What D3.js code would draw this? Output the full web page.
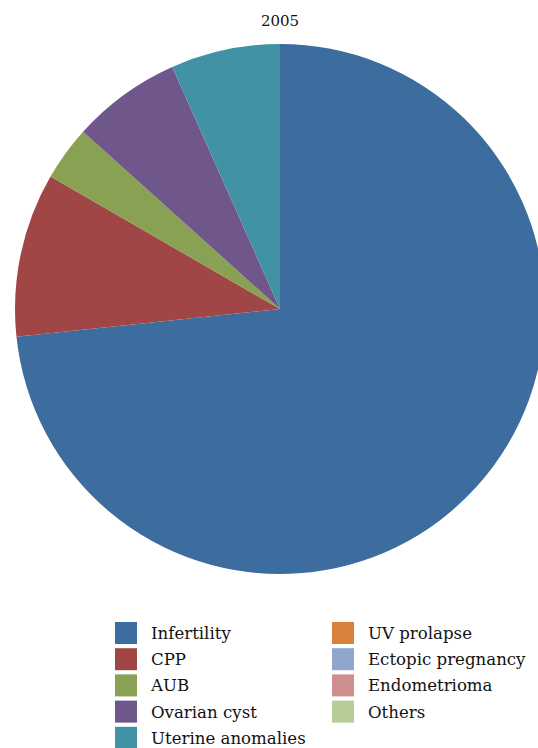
<!DOCTYPE html>
<html>
<head>
<meta charset="utf-8">
<script src="https://cdn.jsdelivr.net/npm/d3@7"></script>
<style>
  body { margin: 0; background: #fff; }
  svg { display: block; }
  text { font-family: "DejaVu Serif", serif; }
</style>
</head>
<body>
<div id="chart"></div>
<script>
// Pie chart of indications, 2005

const width = 538;
const height = 748;

const categories = ["Infertility", "CPP", "AUB", "Ovarian cyst", "Uterine anomalies",
  "UV prolapse", "Ectopic pregnancy", "Endometrioma", "Others"];
const counts = [22, 3, 1, 2, 2, 0, 0, 0, 0];
const colors = ["#3d6d9e", "#a14647", "#88a152", "#6f578c", "#4292a6",
  "#d6823d", "#90a6cc", "#cf8e8e", "#b6cd97"];

const data = categories.map((c, i) => ({ name: c, value: counts[i] }));

const cx = 280, cy = 309, radius = 265;

const svg = d3.select("#chart")
  .append("svg")
  .attr("width", width)
  .attr("height", height);

// title
svg.append("text")
  .attr("x", cx)
  .attr("y", 26)
  .attr("text-anchor", "middle")
  .style("font-size", "15px")
  .style("fill", "#111")
  .text("2005");

const color = d3.scaleOrdinal().domain(categories).range(colors);

const pie = d3.pie()
  .value(d => d.value)
  .sort(null);

const arc = d3.arc()
  .innerRadius(0)
  .outerRadius(radius);

svg.append("g")
  .attr("transform", `translate(${cx},${cy})`)
  .selectAll("path")
  .data(pie(data).filter(d => d.data.value > 0))
  .join("path")
  .attr("d", arc)
  .attr("fill", d => color(d.data.name));

// --- LEGEND ---
const perCol = 5;
const legend = svg.append("g");

const item = legend.selectAll("g")
  .data(categories)
  .join("g")
  .attr("transform", (d, i) => {
    const col = Math.floor(i / perCol);
    const row = i % perCol;
    return `translate(${115 + col * 217},${622 + row * 26.2})`;
  });

item.append("rect")
  .attr("width", 22)
  .attr("height", 22)
  .attr("fill", d => color(d));

item.append("text")
  .attr("x", 36)
  .attr("y", 17)
  .style("font-size", "16.6px")
  .style("fill", "#111")
  .text(d => d);
</script>
</body>
</html>
